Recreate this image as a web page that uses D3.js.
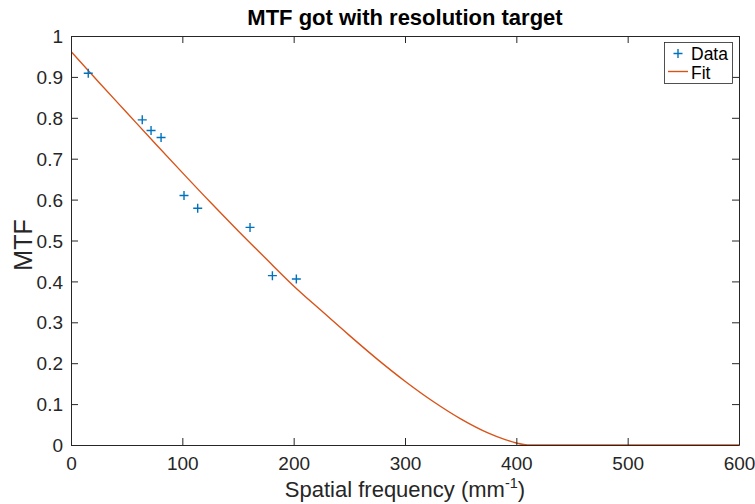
<!DOCTYPE html>
<html><head><meta charset="utf-8">
<script src="https://cdn.jsdelivr.net/npm/d3@7"></script>
<style>body{margin:0;background:#fff}svg{display:block;font-family:"Liberation Sans",Arial,Helvetica,sans-serif}</style>
</head><body><svg id="c" width="755" height="504"></svg>
<script>
// Measured data points (spatial frequency mm^-1, MTF)
const dataFreq = [15.5, 64, 71.9, 80.9, 101.5, 113.8, 160.8, 180.9, 202.4];
const dataMTF  = [0.909, 0.795, 0.769, 0.752, 0.610, 0.579, 0.532, 0.414, 0.406];
// Fit curve
const fitFreq = [0, 25, 50, 75, 100, 125, 150, 175, 200, 225, 250, 275, 300, 325, 350, 375, 390, 400, 410, 450, 500, 550, 600];
const fitMTF  = [0.962, 0.887, 0.813, 0.739, 0.666, 0.594, 0.524, 0.456, 0.389, 0.328, 0.268, 0.210, 0.156, 0.107, 0.064, 0.029, 0.013, 0.005, 0, 0, 0, 0, 0];
const xTicks = [0, 100, 200, 300, 400, 500, 600];
const yTicks = [0, 0.1, 0.2, 0.3, 0.4, 0.5, 0.6, 0.7, 0.8, 0.9, 1];
const titleText = "MTF got with resolution target";
const legendLabels = ["Data", "Fit"];

const svg = d3.select("#c");
const L = 71, R = 739, T = 36, B = 445;
const x = d3.scaleLinear().domain([0, 600]).range([L, R]);
const y = d3.scaleLinear().domain([0, 1]).range([B, T]);
const axisColor = "#262626";

svg.append("clipPath").attr("id","clip").append("rect").attr("x",L).attr("y",T).attr("width",R-L).attr("height",B-T);

// fit line
const fit = fitFreq.map((f,i)=>[f, fitMTF[i]]);
svg.append("path").datum(fit)
  .attr("clip-path","url(#clip)")
  .attr("fill","none").attr("stroke","#D95319").attr("stroke-width",1.4)
  .attr("d", d3.line().x(d=>x(d[0])).y(d=>y(d[1])).curve(d3.curveMonotoneX));

// data markers
const pts = dataFreq.map((f,i)=>[f, dataMTF[i]]);
const plus = (g, s) => g.append("path").attr("d", `M${-s},0H${s}M0,${-s}V${s}`).attr("stroke","#0072BD").attr("stroke-width",1.4).attr("fill","none");
svg.selectAll("g.pt").data(pts).enter().append("g").attr("class","pt")
  .attr("transform", d=>`translate(${x(d[0])},${y(d[1])})`)
  .each(function(){ plus(d3.select(this), 4.5); });

// axes
const tl = 7;
const gx = svg.append("g").attr("transform",`translate(0,${B})`)
  .call(d3.axisBottom(x).tickValues(xTicks).tickFormat(d3.format("d")).tickSizeInner(-tl).tickSizeOuter(0).tickPadding(12));
const gy = svg.append("g").attr("transform",`translate(${L},0)`)
  .call(d3.axisLeft(y).tickValues(yTicks).tickFormat(d=>d===0?"0":d===1?"1":d3.format(".1f")(d)).tickSizeInner(-tl).tickSizeOuter(0).tickPadding(8));
const gxt = svg.append("g").attr("transform",`translate(0,${T})`)
  .call(d3.axisTop(x).tickValues(xTicks).tickFormat("").tickSizeInner(-tl).tickSizeOuter(0));
const gyr = svg.append("g").attr("transform",`translate(${R},0)`)
  .call(d3.axisRight(y).tickValues(yTicks).tickFormat("").tickSizeInner(-tl).tickSizeOuter(0));
[gx,gy,gxt,gyr].forEach(g=>{
  g.selectAll("path").attr("stroke",axisColor).attr("stroke-width",1);
  g.selectAll("line").attr("stroke",axisColor).attr("stroke-width",1);
  g.selectAll("text").attr("fill",axisColor).attr("font-size",19).attr("font-family",null);
});
gx.selectAll("text").attr("dy","0.71em");
gy.selectAll("text").attr("dy","0.35em");

// title
svg.append("text").attr("x",(L+R)/2).attr("y",25).attr("text-anchor","middle")
  .attr("font-size",22).attr("font-weight","bold").attr("fill","#000").text(titleText);

// x label
const xl = svg.append("text").attr("x",(L+R)/2).attr("y",497).attr("text-anchor","middle")
  .attr("font-size",22).attr("fill",axisColor);
xl.append("tspan").text("Spatial frequency (mm");
xl.append("tspan").attr("font-size",14.5).attr("dy",-9).text("-1");
xl.append("tspan").attr("dy",9).text(")");

// y label
svg.append("text").attr("transform","translate(32,245) rotate(-90)").attr("text-anchor","middle")
  .attr("font-size",25).attr("fill",axisColor).text("MTF");

// legend
const lg = svg.append("g");
lg.append("rect").attr("x",664.5).attr("y",42.5).attr("width",68).attr("height",41)
  .attr("fill","#fff").attr("stroke",axisColor).attr("stroke-width",0.8);
plus(lg.append("g").attr("transform","translate(678,53.5)"), 4.5);
lg.append("line").attr("x1",668).attr("x2",688).attr("y1",71.5).attr("y2",71.5).attr("stroke","#D95319").attr("stroke-width",1.4);
lg.append("text").attr("x",691).attr("y",59.5).attr("font-size",17.5).attr("fill","#000").text(legendLabels[0]);
lg.append("text").attr("x",691).attr("y",78.5).attr("font-size",17.5).attr("fill","#000").text(legendLabels[1]);
</script></body></html>
